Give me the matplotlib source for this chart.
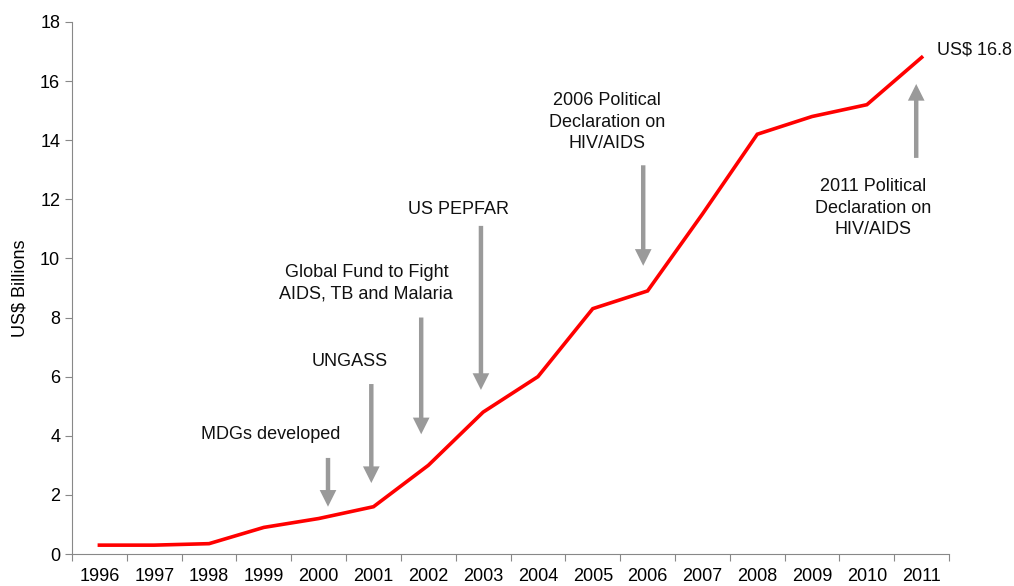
import matplotlib
matplotlib.use('Agg')
import matplotlib.pyplot as plt
import numpy as np

plt.rcParams['font.family'] = ['Liberation Sans', 'DejaVu Sans']

years = ['1996', '1997', '1998', '1999', '2000', '2001', '2002', '2003',
         '2004', '2005', '2006', '2007', '2008', '2009', '2010', '2011']
funding = [0.3, 0.3, 0.35, 0.9, 1.2, 1.6, 3.0, 4.8, 6.0, 8.3, 8.9, 11.5,
           14.2, 14.8, 15.2, 16.8]

# events: label, text pos (x, y), arrow start, arrow end
events = [
    ('MDGs developed', (3.12, 4.05), (4.17, 3.25), (4.17, 1.6)),
    ('UNGASS', (4.57, 6.5), (4.96, 5.75), (4.96, 2.4)),
    ('Global Fund to Fight\nAIDS, TB and Malaria', (4.87, 9.15), (5.87, 8.0), (5.87, 4.05)),
    ('US PEPFAR', (6.55, 11.65), (6.96, 11.1), (6.96, 5.55)),
    ('2006 Political\nDeclaration on\nHIV/AIDS', (9.26, 14.6), (9.92, 13.15), (9.92, 9.75)),
    ('2011 Political\nDeclaration on\nHIV/AIDS', (14.12, 11.7), (14.9, 13.4), (14.9, 15.9)),
]

fig = plt.figure(figsize=(10.14, 5.86), dpi=100)
ax = fig.add_axes([0.071, 0.0546, 0.865, 0.908])

x = np.arange(len(years))
ax.plot(x, funding, color='#ff0000', lw=2.6, solid_joinstyle='miter')

gray = '#9a9a9a'
for label, tpos, start, end in events:
    ax.annotate('', xy=end, xytext=start,
                arrowprops=dict(arrowstyle='simple,head_width=1.2,head_length=1.2,tail_width=0.32',
                                color=gray, lw=0, shrinkA=0, shrinkB=0))
    ax.text(tpos[0], tpos[1], label, ha='center', va='center', fontsize=13,
            linespacing=1.35, color='#111111')

ax.text(15.28, 17.05, 'US$ 16.8', ha='left', va='center', fontsize=13, color='#111111')

ax.set_xlim(-0.5, 15.5)
ax.set_ylim(0, 18)
ax.set_yticks(np.arange(0, 19, 2))
ax.set_xticks(np.arange(-0.5, 16, 1))
ax.set_xticklabels([])
ax.set_xticks(x, minor=True)
ax.set_xticklabels(years, minor=True)
ax.tick_params(axis='x', which='major', direction='out', length=5, color='#888888')
ax.tick_params(axis='x', which='minor', length=0, labelsize=13, pad=10)
ax.tick_params(axis='y', direction='out', length=5, color='#888888', labelsize=13)
ax.set_ylabel('US$ Billions', fontsize=13, labelpad=8)
for s in ['top', 'right']:
    ax.spines[s].set_visible(False)
for s in ['left', 'bottom']:
    ax.spines[s].set_color('#888888')

fig.savefig('out.png', dpi=100)
